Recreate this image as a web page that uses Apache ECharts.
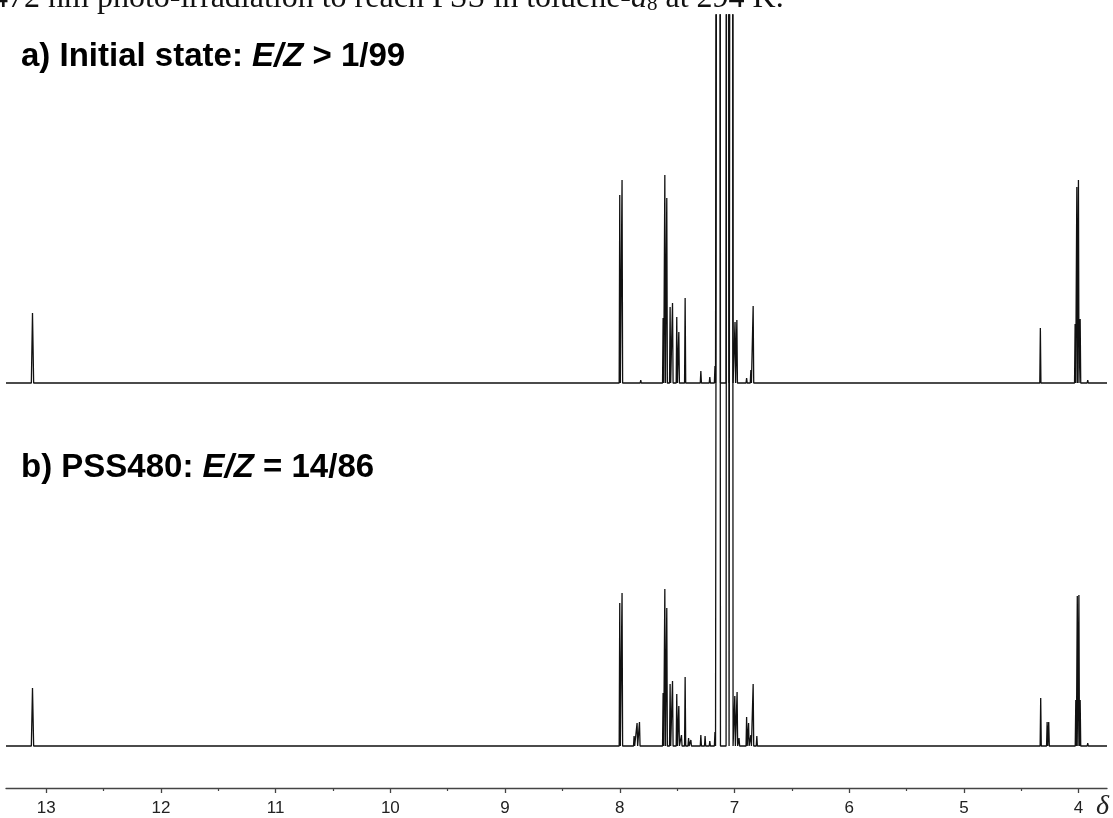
<!DOCTYPE html>
<html>
<head>
<meta charset="utf-8">
<script src="https://cdn.jsdelivr.net/npm/echarts@6/dist/echarts.min.js"></script>
<style>
  html, body { margin: 0; padding: 0; background: #fff; }
  #main { width: 1113px; height: 818px; }
</style>
</head>
<body>
<div id="main"></div>
<script>
// chemical shifts (ppm) and peak heights
var ppmA = [13.12, 8.00, 7.98, 7.817, 7.76, 7.622, 7.607, 7.59, 7.561, 7.54, 7.503, 7.485, 7.43,
  7.293, 7.215, 7.17, 6.995, 6.979, 6.894, 6.857, 6.837, 4.333, 4.03, 4.015, 4.001, 3.986, 3.92];
var intA = [70, 188, 203, 3, 2, 65, 208, 185, 76, 80, 66, 51, 85,
  12, 6, 17, 61, 63, 5, 13, 77, 55, 59, 196, 203, 64, 3];

var ppmB = [13.12, 8.00, 7.98, 7.875, 7.849, 7.828, 7.622, 7.607, 7.59, 7.561, 7.54, 7.503, 7.485,
  7.462, 7.43, 7.40, 7.38, 7.293, 7.256, 7.215, 7.17, 6.997, 6.977, 6.96, 6.894, 6.877, 6.857,
  6.837, 6.805, 4.82, 4.33, 4.274, 4.26, 4.024, 4.011, 3.997, 3.986, 3.92];
var intB = [58, 143, 153, 10, 23, 24, 53, 157, 138, 62, 65, 52, 40,
  11, 69, 8, 6, 11, 10, 5, 14, 50, 54, 8, 29, 23, 11,
  62, 10, 2, 48, 24, 24, 46, 150, 151, 46, 3];

// toluene-d8 solvent lines, off scale in both spectra
var solventPpm = [7.135, 7.06, 7.025];
var solventInt = [3000, 3000, 3000];

var majorTicks = [4, 5, 6, 7, 8, 9, 10, 11, 12, 13];
var minorTicks = [4.5, 5.5, 6.5, 7.5, 8.5, 9.5, 10.5, 11.5, 12.5];

var X_MIN = 3.752, X_MAX = 13.351;
var OFFSET_A = 363; // vertical offset of trace a) above trace b)

function buildTrace(ppm, ints, offset) {
  var pts = [[X_MAX, offset], [X_MIN, offset]];
  var all = ppm.concat(solventPpm);
  var hs = ints.concat(solventInt);
  all.forEach(function (p, i) {
    var w = hs[i] > 1000 ? 0.013 : (p > 13 ? 0.01 : 0.005);
    pts.push([p + w, offset], [p, offset + hs[i]], [p - w, offset]);
  });
  pts.sort(function (a, b) { return b[0] - a[0]; });
  return pts;
}

var sans = "'Liberation Sans', Arial, sans-serif";
var serif = "'Liberation Serif', 'Times New Roman', serif";

var myChart = echarts.init(document.getElementById("main"));
myChart.setOption({
  animation: false,
  backgroundColor: "#fff",
  title: [
    {
      text: "472 nm photo-irradiation to reach PSS in toluene-{i|d}{s|8} at 294 K.",
      left: -8, top: -17, padding: 0,
      textStyle: {
        fontFamily: serif, fontSize: 32, fontWeight: "normal", color: "#111", lineHeight: 32,
        rich: {
          i: { fontFamily: serif, fontSize: 32, fontStyle: "italic", color: "#111", lineHeight: 32 },
          s: { fontFamily: serif, fontSize: 21, color: "#111", lineHeight: 18, verticalAlign: "bottom", padding: [18, 0, 0, 0] }
        }
      }
    },
    {
      text: "a) Initial state: {i|E/Z} > 1/99",
      left: 21, top: 40, padding: 0,
      textStyle: {
        fontFamily: sans, fontSize: 33, fontWeight: "bold", color: "#000",
        rich: { i: { fontFamily: sans, fontSize: 33, fontWeight: "bold", fontStyle: "italic", color: "#000" } }
      }
    },
    {
      text: "b) PSS480: {i|E/Z} = 14/86",
      left: 21, top: 451, padding: 0,
      textStyle: {
        fontFamily: sans, fontSize: 33, fontWeight: "bold", color: "#000",
        rich: { i: { fontFamily: sans, fontSize: 33, fontWeight: "bold", fontStyle: "italic", color: "#000" } }
      }
    },
    {
      text: "δ",
      left: 1096, top: 793, padding: 0,
      textStyle: { fontFamily: serif, fontSize: 28, fontStyle: "italic", fontWeight: "normal", color: "#222" }
    }
  ],
  grid: { left: 6, right: 6, top: 15, bottom: 30 },
  xAxis: [
    {
      type: "value", min: X_MIN, max: X_MAX, inverse: true, position: "bottom",
      splitLine: { show: false },
      axisLine: { onZero: false, lineStyle: { color: "#444", width: 1.3 } },
      axisTick: { customValues: majorTicks, length: 5, lineStyle: { color: "#444", width: 1.3 } },
      axisLabel: {
        customValues: majorTicks, margin: 12, fontSize: 17, color: "#222",
        fontFamily: "'Liberation Sans Narrow', 'Arial Narrow', " + sans
      }
    },
    {
      type: "value", min: X_MIN, max: X_MAX, inverse: true, position: "bottom",
      splitLine: { show: false },
      axisLine: { show: false, onZero: false },
      axisTick: { customValues: minorTicks, length: 3, lineStyle: { color: "#444", width: 1.2 } },
      axisLabel: { show: false }
    }
  ],
  yAxis: { type: "value", min: -42, max: 731, show: false, splitLine: { show: false } },
  series: [
    {
      name: "a", type: "line", xAxisIndex: 0, showSymbol: false, clip: true,
      lineStyle: { color: "#111", width: 1.3 },
      data: buildTrace(ppmA, intA, OFFSET_A)
    },
    {
      name: "b", type: "line", xAxisIndex: 0, showSymbol: false, clip: true,
      lineStyle: { color: "#111", width: 1.3 },
      data: buildTrace(ppmB, intB, 0)
    }
  ]
});
</script>
</body>
</html>
